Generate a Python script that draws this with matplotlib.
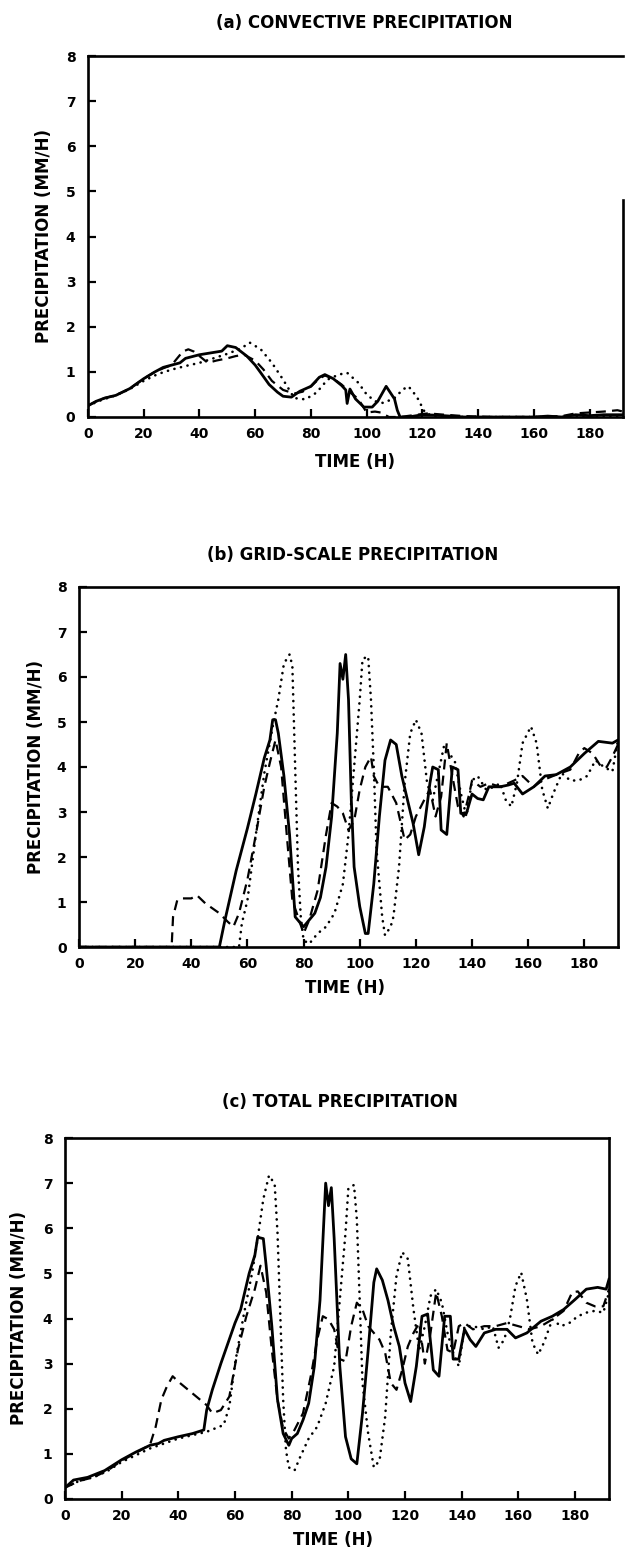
import matplotlib
matplotlib.use("Agg")
import matplotlib.pyplot as plt

plt.rcParams['font.family'] = ['DejaVu Sans']

# ---------------- data ----------------
X_TICKS = [0, 20, 40, 60, 80, 100, 120, 140, 160, 180]
Y_TICKS = [0, 1, 2, 3, 4, 5, 6, 7, 8]
TITLES = ["(a) CONVECTIVE PRECIPITATION", "(b) GRID-SCALE PRECIPITATION", "(c) TOTAL PRECIPITATION"]
XLABEL = "TIME (H)"
YLABEL = "PRECIPITATION (MM/H)"

# panel a : convective
a_solid_t = [0, 3, 6, 10, 15, 20, 24, 27, 30, 33, 35, 40, 45, 48, 50, 53, 57, 60, 62, 65, 68, 70, 73, 76, 80, 83, 85, 88, 91, 92.5, 93, 94, 96, 99, 102, 104, 107, 110, 111, 112, 115, 120, 125, 130, 135, 140, 150, 160, 165, 170, 175, 180, 185, 190, 192]
a_solid_y = [0.25, 0.35, 0.42, 0.48, 0.63, 0.85, 1.0, 1.1, 1.15, 1.2, 1.3, 1.38, 1.43, 1.46, 1.58, 1.54, 1.35, 1.15, 0.98, 0.72, 0.55, 0.46, 0.44, 0.57, 0.68, 0.88, 0.94, 0.85, 0.7, 0.6, 0.3, 0.62, 0.4, 0.22, 0.22, 0.35, 0.68, 0.4, 0.15, 0.0, 0.0, 0.05, 0.04, 0.02, 0.0, 0.0, 0.0, 0.0, 0.02, 0.0, 0.05, 0.03, 0.05, 0.05, 0.05]
a_dash_t = [0, 3, 6, 10, 15, 20, 24, 27, 30, 32, 34, 36, 38, 40, 43, 46, 50, 53, 56, 60, 63, 66, 70, 74, 77, 80, 83, 85, 88, 91, 94, 97, 100, 103, 105, 108, 112, 118, 122, 128, 135, 145, 160, 170, 175, 180, 185, 190, 192]
a_dash_y = [0.25, 0.35, 0.42, 0.48, 0.63, 0.85, 1.0, 1.08, 1.15, 1.3, 1.45, 1.5, 1.45, 1.35, 1.2, 1.25, 1.3, 1.35, 1.38, 1.25, 1.05, 0.8, 0.6, 0.52, 0.56, 0.68, 0.85, 0.92, 0.85, 0.72, 0.55, 0.4, 0.1, 0.12, 0.1, 0.0, 0.0, 0.05, 0.08, 0.05, 0.02, 0.0, 0.0, 0.02, 0.08, 0.1, 0.12, 0.15, 0.12]
a_dot_t = [0, 5, 10, 15, 20, 25, 30, 35, 40, 45, 50, 55, 58, 62, 66, 70, 74, 78, 82, 86, 90, 93, 97, 100, 103, 106, 110, 113, 115, 118, 121, 125, 130, 192]
a_dot_y = [0.25, 0.38, 0.48, 0.62, 0.8, 0.95, 1.05, 1.13, 1.2, 1.3, 1.4, 1.52, 1.65, 1.5, 1.2, 0.83, 0.42, 0.39, 0.54, 0.83, 0.94, 0.98, 0.76, 0.5, 0.35, 0.31, 0.42, 0.61, 0.68, 0.45, 0.09, 0.0, 0.0, 0.0]

# panel b : grid-scale
b_solid_t = [0, 50, 52, 56, 60, 63, 66, 68, 69, 70, 71, 73, 75, 77, 79, 80, 82, 84, 86, 88, 90, 92, 93, 94, 95, 96, 97, 98, 100, 102, 103, 105, 107, 109, 111, 113, 115, 117, 119, 121, 123, 125, 126, 128, 129, 131, 133, 135, 136, 138, 140, 142, 144, 146, 150, 153, 155, 158, 162, 166, 170, 175, 180, 185, 190, 192]
b_solid_y = [0, 0, 0.6, 1.7, 2.64, 3.4, 4.2, 4.6, 5.05, 5.05, 4.75, 3.8, 2.5, 0.67, 0.52, 0.45, 0.6, 0.75, 1.1, 1.78, 2.9, 4.75, 6.3, 5.95, 6.5, 5.5, 3.27, 1.78, 0.9, 0.3, 0.3, 1.4, 2.9, 4.15, 4.6, 4.5, 3.8, 3.27, 2.75, 2.05, 2.67, 3.64, 4.0, 3.94, 2.6, 2.5, 4.0, 3.94, 2.97, 2.97, 3.4, 3.3, 3.27, 3.56, 3.56, 3.6, 3.64, 3.4, 3.56, 3.8, 3.83, 4.0, 4.3, 4.57, 4.53, 4.6]
b_dash_t = [0, 33, 33.5, 35, 37, 40, 42, 45, 50, 53, 55, 57, 60, 63, 66, 68, 70, 72, 74, 76, 78, 80, 82, 85, 88, 90, 92, 94, 96, 98, 100, 102, 104, 105, 107, 110, 113, 116, 118, 120, 123, 125, 127, 129, 131, 133, 135, 137, 139, 140, 143, 146, 150, 155, 158, 162, 165, 170, 175, 178, 180, 183, 186, 188, 190, 192]
b_dash_y = [0, 0, 0.67, 1.04, 1.08, 1.08, 1.15, 0.97, 0.75, 0.56, 0.45, 0.75, 1.5, 2.5, 3.56, 4.1, 4.6, 4.0, 2.5, 1.04, 0.67, 0.3, 0.6, 1.26, 2.5, 3.2, 3.12, 2.97, 2.6, 2.8, 3.5, 4.0, 4.23, 3.8, 3.56, 3.56, 3.2, 2.38, 2.5, 2.9, 3.27, 3.5, 2.9, 3.34, 4.53, 3.8, 3.12, 2.9, 3.4, 3.7, 3.56, 3.64, 3.56, 3.7, 3.8, 3.56, 3.7, 3.83, 3.94, 4.3, 4.42, 4.3, 4.0, 4.0, 4.23, 4.5]
b_dot_t = [0, 57, 58, 60, 63, 66, 69, 71, 73, 75, 76, 77, 78, 79, 80, 82, 85, 88, 91, 94, 96, 98, 100, 101, 103, 104, 105, 106, 108, 109, 111, 112, 114, 116, 118, 120, 122, 124, 126, 128, 130, 132, 134, 136, 138, 140, 142, 145, 148, 150, 152, 154, 156, 158, 161, 163, 165, 167, 169, 172, 175, 178, 181, 184, 187, 190, 192]
b_dot_y = [0, 0, 0.52, 1.04, 2.5, 3.86, 4.9, 5.5, 6.3, 6.5, 6.25, 4.0, 1.78, 0.67, 0.15, 0.07, 0.3, 0.45, 0.75, 1.4, 2.5, 4.0, 5.5, 6.4, 6.46, 5.5, 4.0, 2.15, 0.67, 0.26, 0.45, 0.67, 1.78, 3.64, 4.75, 5.05, 4.75, 3.64, 3.27, 3.86, 4.46, 4.3, 4.1, 3.42, 2.9, 3.7, 3.8, 3.5, 3.56, 3.64, 3.27, 3.12, 3.64, 4.53, 4.9, 4.53, 3.5, 3.08, 3.42, 3.86, 3.7, 3.7, 3.8, 4.15, 4.0, 3.9, 4.6]

# panel c : total
c_solid_t = [0, 3, 8, 14, 20, 25, 30, 33, 35, 40, 45, 49, 50, 52, 55, 60, 62, 65, 67, 68, 70, 71, 73, 75, 77, 79, 80, 82, 84, 86, 88, 90, 92, 93, 94, 95, 97, 99, 101, 103, 105, 107, 109, 110, 112, 114, 116, 118, 120, 122, 124, 126, 128, 130, 132, 134, 136, 137, 139, 141, 143, 145, 148, 152, 156, 159, 163, 168, 172, 176, 180, 184, 188, 191, 192]
c_solid_y = [0.25, 0.42, 0.48, 0.63, 0.87, 1.04, 1.19, 1.23, 1.3, 1.38, 1.45, 1.53, 1.97, 2.42, 3.0, 3.9, 4.2, 5.0, 5.4, 5.8, 5.77, 5.17, 3.83, 2.2, 1.45, 1.19, 1.34, 1.45, 1.75, 2.12, 2.94, 4.4, 7.0, 6.5, 6.9, 5.77, 2.94, 1.38, 0.89, 0.78, 1.9, 3.3, 4.8, 5.1, 4.85, 4.4, 3.83, 3.38, 2.57, 2.16, 2.94, 4.05, 4.1, 2.86, 2.72, 4.05, 4.05, 3.1, 3.1, 3.76, 3.53, 3.38, 3.68, 3.76, 3.76, 3.57, 3.68, 3.94, 4.05, 4.2, 4.42, 4.65, 4.69, 4.65, 4.87]
c_dash_t = [0, 5, 10, 15, 20, 25, 30, 32, 34, 36, 38, 40, 45, 50, 52, 55, 58, 61, 64, 67, 69, 71, 73, 75, 77, 79, 81, 84, 87, 89, 91, 93, 95, 97, 99, 101, 103, 105, 107, 109, 111, 113, 115, 117, 119, 121, 123, 125, 127, 129, 131, 133, 135, 137, 139, 141, 144, 148, 152, 156, 160, 164, 168, 172, 176, 179, 181, 184, 187, 190, 192]
c_dash_y = [0.25, 0.4, 0.48, 0.63, 0.85, 1.02, 1.2, 1.6, 2.2, 2.5, 2.72, 2.6, 2.34, 2.08, 1.9, 1.97, 2.27, 3.3, 4.05, 4.65, 5.17, 4.58, 3.3, 2.2, 1.56, 1.34, 1.53, 1.9, 2.8, 3.53, 4.05, 3.98, 3.76, 3.1, 3.05, 3.83, 4.35, 4.2, 3.83, 3.68, 3.53, 3.24, 2.57, 2.42, 2.86, 3.38, 3.68, 3.9, 3.0, 3.68, 4.58, 4.05, 3.3, 3.24, 3.83, 3.9, 3.76, 3.83, 3.83, 3.9, 3.83, 3.76, 3.83, 3.98, 4.17, 4.58, 4.6, 4.35, 4.27, 4.27, 4.65]
c_dot_t = [0, 5, 10, 15, 20, 25, 30, 40, 50, 56, 58, 60, 63, 66, 68, 70, 72, 74, 75, 76, 77, 78, 79, 81, 83, 86, 89, 92, 95, 97, 99, 100, 102, 103, 104, 105, 107, 109, 111, 113, 115, 117, 119, 121, 123, 125, 127, 129, 131, 133, 135, 137, 139, 141, 144, 148, 151, 153, 155, 157, 159, 161, 163, 165, 167, 169, 172, 175, 178, 181, 184, 187, 190, 192]
c_dot_y = [0.25, 0.4, 0.48, 0.62, 0.82, 0.97, 1.12, 1.34, 1.49, 1.64, 2.05, 3.0, 4.05, 5.0, 5.77, 6.65, 7.17, 6.98, 5.9, 4.05, 2.2, 1.08, 0.7, 0.63, 0.93, 1.34, 1.6, 2.12, 2.94, 4.43, 5.9, 6.88, 6.96, 6.2, 4.43, 2.57, 1.45, 0.7, 0.85, 1.82, 3.68, 4.95, 5.47, 5.32, 4.2, 3.3, 3.83, 4.5, 4.65, 4.35, 3.68, 3.24, 2.94, 3.83, 3.83, 3.76, 3.83, 3.35, 3.53, 3.98, 4.72, 5.02, 4.43, 3.46, 3.2, 3.46, 3.98, 3.83, 3.9, 4.05, 4.13, 4.17, 4.13, 4.58]

# ---------------- layout (pixels) ----------------
W, H = 628, 1555
fig = plt.figure(figsize=(W / 100, H / 100), dpi=100)

def box(l, t, r, b):
    return [l / W, 1 - b / H, (r - l) / W, (b - t) / H]

panels = [
    dict(rect=box(88, 56, 623, 417), title=(364, 23), xlab=(355, 462), ylab=(44, 236),
         series=[(a_solid_t, a_solid_y), (a_dash_t, a_dash_y), (a_dot_t, a_dot_y)]),
    dict(rect=box(79, 587, 618, 947), title=(353, 555), xlab=(345, 988), ylab=(36, 767),
         series=[(b_solid_t, b_solid_y), (b_dash_t, b_dash_y), (b_dot_t, b_dot_y)]),
    dict(rect=box(65, 1138, 609, 1499), title=(340, 1102), xlab=(333, 1540), ylab=(19, 1318),
         series=[(c_solid_t, c_solid_y), (c_dash_t, c_dash_y), (c_dot_t, c_dot_y)]),
]

styles = [
    dict(color='black', lw=2.0, linestyle='-', solid_joinstyle='round'),
    dict(color='black', lw=1.6, linestyle=(0, (4.5, 2.8)), dash_capstyle='butt'),
    dict(color='black', lw=1.9, linestyle=(0, (0.05, 2.5)), dash_capstyle='round'),
]

for i, p in enumerate(panels):
    ax = fig.add_axes(p['rect'])
    for (t, y), st in zip(p['series'], styles):
        ax.plot(t, y, **st)
    ax.set_xlim(0, 192)
    ax.set_ylim(0, 8)
    ax.set_xticks(X_TICKS)
    ax.set_yticks(Y_TICKS)
    ax.tick_params(axis='both', direction='in', length=6, width=1.6,
                   labelsize=10, top=False, right=False)
    ax.tick_params(axis='x', pad=7)
    ax.tick_params(axis='y', pad=9)
    for lab in ax.get_xticklabels() + ax.get_yticklabels():
        lab.set_fontweight('bold')
    for sp in ax.spines.values():
        sp.set_linewidth(1.9)
        sp.set_color('black')
    if i == 0:
        ax.spines['right'].set_bounds(0, 4.8)
    tx, ty = p['title']
    fig.text(tx / W, 1 - ty / H, TITLES[i], ha='center', va='center',
             fontsize=12, fontweight='bold')
    xx, xy = p['xlab']
    fig.text(xx / W, 1 - xy / H, XLABEL, ha='center', va='center',
             fontsize=12, fontweight='bold')
    yx, yy = p['ylab']
    fig.text(yx / W, 1 - yy / H, YLABEL, ha='center', va='center',
             rotation=90, fontsize=12, fontweight='bold')

fig.savefig('out.png', dpi=100)
